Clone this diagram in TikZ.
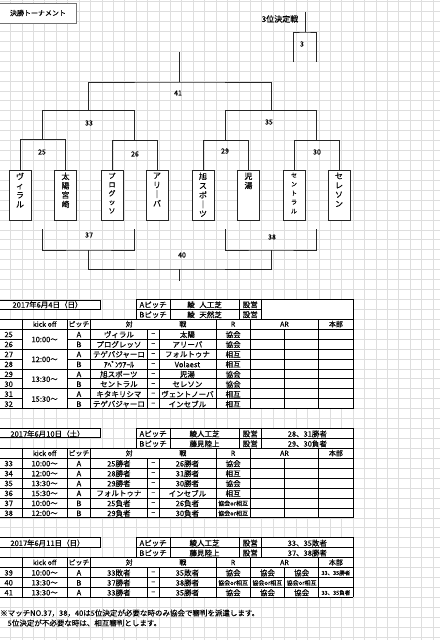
\documentclass[tikz,border=0pt]{standalone}
\usepackage{fontspec}
\setmainfont[FakeBold=0.3]{Noto Sans CJK JP}
\begin{document}
\begin{tikzpicture}[x=1pt,y=-1pt,
  gridline/.style={draw=black!13,line width=0.5pt},
  bline/.style={draw=black!85,line width=0.9pt},
  tline/.style={draw=black,line width=0.6pt},
  team/.style={draw=black!85,line width=0.9pt,fill=white,minimum width=22pt,minimum height=50pt,inner sep=0pt},
  vtext/.style={anchor=north,align=center,inner sep=0pt,font=\fontsize{8}{9.3}\selectfont},
  bnum/.style={font=\fontsize{7}{8}\selectfont,inner sep=0pt},
  cell/.style={font=\fontsize{7.5}{9}\selectfont,inner sep=0pt},
  smallcell/.style={font=\fontsize{6}{7}\selectfont,inner sep=0pt},
  tinycell/.style={font=\fontsize{5.5}{6}\selectfont,inner sep=0pt},
  datebox/.style={draw=black,line width=0.9pt,fill=white},
  hdr/.style={font=\fontsize{7}{8}\selectfont,inner sep=0pt},
]
\useasboundingbox (0,0) rectangle (440,640);
\fill[white] (0,0) rectangle (440,640);
% spreadsheet grid
\foreach \j in {0,...,38} \draw[gridline] ({-1+11.42*\j},0) -- ({-1+11.42*\j},640);
\foreach \k in {-30,...,34} \draw[gridline] (0,{299.3+9.93*\k}) -- (440,{299.3+9.93*\k});

% ---------------- title
\node[draw=black!55,line width=1pt,fill=white,minimum width=77pt,minimum height=20pt,inner sep=0pt,
      font=\fontsize{7}{8}\selectfont] (title) at (38,13) {決勝トーナメント};

% ---------------- teams
\node[team] (t1) at (20,195) {};
\node[team] (t2) at (65.5,195) {};
\node[team] (t3) at (112,195) {};
\node[team] (t4) at (157,195) {};
\node[team] (t5) at (203,195) {};
\node[team] (t6) at (248.5,195) {};
\node[team] (t7) at (294,195) {};
\node[team] (t8) at (339,195) {};
\node[vtext] (t1l) at ([yshift=-3pt]t1.north) {ヴ\\ィ\\ラ\\ル};
\node[vtext] (t2l) at ([yshift=-3pt]t2.north) {太\\陽\\宮\\崎};
\node[vtext,font=\fontsize{7}{8.7}\selectfont] (t3l) at ([yshift=-3pt]t3.north) {プ\\ロ\\グ\\ッ\\ソ};
\node[vtext] (t4l) at ([yshift=-3pt]t4.north) {ア\\リ\\｜\\バ};
\node[vtext] (t5l) at ([yshift=-3pt]t5.north) {旭\\ス\\ポ\\｜\\ツ};
\node[vtext] (t6l) at ([yshift=-3pt]t6.north) {児\\湯};
\node[vtext,font=\fontsize{6}{9}\selectfont] (t7l) at ([yshift=-3pt]t7.north) {セ\\ン\\ト\\ラ\\ル};
\node[vtext] (t8l) at ([yshift=-3pt]t8.north) {セ\\レ\\ソ\\ン};

% ---------------- bracket coordinates
\coordinate (m25) at (42.75,139.5);
\coordinate (m26) at (134.5,140.5);
\coordinate (m29) at (225.75,140.5);
\coordinate (m30) at (316.5,140.5);
\coordinate (m33) at (88.6,110.7);
\coordinate (m35) at (271.1,110.7);
\coordinate (m41) at (179.9,82);
\coordinate (top41) at (179.9,52);
\draw[bline] (t1.north) |- (m25) -| (t2.north);
\draw[bline] (t3.north) |- (m26) -| (t4.north);
\draw[bline] (t5.north) |- (m29) -| (t6.north);
\draw[bline] (t7.north) |- (m30) -| (t8.north);
\draw[bline] (m25) |- (m33) -| (m26);
\draw[bline] (m29) |- (m35) -| (m30);
\draw[bline] (m33) |- (m41) -| (m35);
\draw[bline] (m41) -- (top41);
\node[bnum] (l41) at (178,93) {41};
\node[bnum] (l33) at (89,123) {33};
\node[bnum] (l35) at (269,122) {35};
\node[bnum] (l25) at (42,152) {25};
\node[bnum] (l26) at (135,154) {26};
\node[bnum] (l29) at (225,151) {29};
\node[bnum] (l30) at (317,152) {30};

% third place
\node[font=\fontsize{8}{9}\selectfont,inner sep=0pt] (third) at (280,19) {3位決定戦};
\coordinate (f3) at (305,32);
\coordinate (f3top) at (305,12);
\coordinate (c3l) at (293.5,62);
\coordinate (c3r) at (316.5,62);
\draw[bline] (c3l) |- (f3) -| (c3r);
\draw[bline] (f3) -- (f3top);
\node[bnum] (l3) at (302,44) {3};

% losers brackets
\coordinate (a37) at (42.75,229);
\coordinate (b37) at (134.5,229);
\coordinate (m37) at (88.6,250);
\coordinate (a38) at (225.75,229);
\coordinate (b38) at (316.5,229);
\coordinate (m38) at (271.1,250);
\coordinate (m40) at (179.9,269);
\coordinate (bot40) at (179.9,281);
\draw[bline] (a37) |- (m37) -| (b37);
\draw[bline] (a38) |- (m38) -| (b38);
\draw[bline] (m37) |- (m40) -| (m38);
\draw[bline] (m40) -- (bot40);
\node[bnum] (l37) at (89,235) {37};
\node[bnum] (l38) at (272,237) {38};
\node[bnum] (l40) at (182,255) {40};

% ================= tables (grid units)
\begin{scope}[shift={(-1pt,-299.3pt)},x=11.42pt,y=-9.93pt]
% ---------- table 1
\fill[white] (12,0) rectangle (31,2);
\fill[white] (0,2) rectangle (31,11);
\draw[tline] (12,0) rectangle (31,2);
\draw[tline] (12,1) -- (23,1);
\foreach \j in {15,21,23} \draw[tline] (\j,0) -- (\j,2);
\foreach \k in {2,3,5,7,9,11} \draw[tline] (0,\k) -- (31,\k);
\foreach \k in {4,6,8,10} {\draw[tline] (0,\k) -- (2,\k); \draw[tline] (6,\k) -- (31,\k);}
\foreach \j in {2,6,8,19,22,28,31} \draw[tline] (\j,2) -- (\j,11);
\foreach \j in {13,14,25} \draw[tline] (\j,3) -- (\j,11);
\node[datebox,minimum width=101pt,minimum height=8.4pt,inner sep=0pt] (d1box) at (4.42,0.58) {};
\node[cell] (d1) at (4.25,0.55) {2017年6月4日（日）};
\node[cell] (pa1) at (13.5,0.55) {Aピッチ};
\node[cell] (pb1) at (13.5,1.55) {Bピッチ};
\node[cell] (fa1) at (18,0.55) {綾\hspace{0.6em}人工芝};
\node[cell] (fb1) at (18,1.55) {綾\hspace{0.6em}天然芝};
\node[cell] (sa1) at (22,0.55) {設営};
\node[cell] (sb1) at (22,1.55) {設営};
\node[hdr] (h1a) at (4,2.5) {kick off};
\node[hdr] (h1b) at (7,2.5) {ピッチ};
\node[hdr] (h1c) at (11.4,2.5) {対};
\node[hdr] (h1d) at (16.1,2.5) {戦};
\node[hdr] (h1e) at (20.5,2.5) {R};
\node[hdr] (h1f) at (25,2.5) {AR};
\node[hdr] (h1g) at (29.5,2.5) {本部};
\node[cell] (k25) at (4,4.05) {10:00～};
\node[cell] (k27) at (4,6.05) {12:00～};
\node[cell] (k29) at (4,8.05) {13:30～};
\node[cell] (k31) at (4,10.05) {15:30～};
\foreach \n/\p/\a/\b/\r [count=\i from 0] in {
25/A/ヴィラル/太陽/協会,
26/B/プログレッソ/アリーバ/協会,
27/A/テゲバジャーロ/フォルトゥナ/相互,
28/B/ｱﾍﾞﾝﾂｱｰﾙ/Volaest/相互,
29/A/旭スポーツ/児湯/協会,
30/B/セントラル/セレソン/協会,
31/A/キタキリシマ/ヴェントノーバ/相互,
32/B/テゲバジャーロ/インセブル/相互}{
 \node[cell] (n\n) at (0.85,{3.55+\i}) {\n};
 \node[cell] (p\n) at (7,{3.55+\i}) {\p};
 \node[cell] (a\n) at (10.5,{3.55+\i}) {\a};
 \node[cell] (x\n) at (13.5,{3.55+\i}) {–};
 \node[cell] (b\n) at (16.5,{3.55+\i}) {\b};
 \node[cell] (r\n) at (20.5,{3.55+\i}) {\r};
}

% ---------- table 2
\fill[white] (12,13) rectangle (31,15);
\fill[white] (0,15) rectangle (31,22);
\draw[tline] (12,13) rectangle (31,15);
\draw[tline] (12,14) -- (31,14);
\foreach \j in {15,21,23} \draw[tline] (\j,13) -- (\j,15);
\foreach \k in {15,...,22} \draw[tline] (0,\k) -- (31,\k);
\foreach \j in {2,6,8,19,22,28,31} \draw[tline] (\j,15) -- (\j,22);
\foreach \j in {13,14,25} \draw[tline] (\j,16) -- (\j,22);
\node[datebox,minimum width=101pt,minimum height=9.5pt,inner sep=0pt] (d2box) at (4.42,13.48) {};
\node[cell] (d2) at (4.25,13.55) {2017年6月10日（土）};
\node[cell] (pa2) at (13.5,13.55) {Aピッチ};
\node[cell] (pb2) at (13.5,14.55) {Bピッチ};
\node[cell] (fa2) at (18,13.55) {綾人工芝};
\node[cell] (fb2) at (18,14.55) {藤見陸上};
\node[cell] (sa2) at (22,13.55) {設営};
\node[cell] (sb2) at (22,14.55) {設営};
\node[cell] (wa2) at (27,13.55) {28、31勝者};
\node[cell] (wb2) at (27,14.55) {29、30負者};
\node[hdr] (h2a) at (4,15.5) {kick off};
\node[hdr] (h2b) at (7,15.5) {ピッチ};
\node[hdr] (h2c) at (11.4,15.5) {対};
\node[hdr] (h2d) at (16.1,15.5) {戦};
\node[hdr] (h2e) at (20.5,15.5) {R};
\node[hdr] (h2f) at (25,15.5) {AR};
\node[hdr] (h2g) at (29.5,15.5) {本部};
\foreach \n/\t/\p/\a/\b [count=\i from 0] in {
33/10:00～/A/25勝者/26勝者,
34/12:00～/A/28勝者/31勝者,
35/13:30～/A/29勝者/30勝者,
36/15:30～/A/フォルトゥナ/インセブル,
37/10:00～/B/25負者/26負者,
38/12:00～/B/29負者/30負者}{
 \node[cell] (n\n) at (0.85,{16.55+\i}) {\n};
 \node[cell] (k\n) at (4,{16.55+\i}) {\t};
 \node[cell] (p\n) at (7,{16.55+\i}) {\p};
 \node[cell] (a\n) at (10.5,{16.55+\i}) {\a};
 \node[cell] (x\n) at (13.5,{16.55+\i}) {–};
 \node[cell] (b\n) at (16.5,{16.55+\i}) {\b};
}
\node[cell] (r33) at (20.5,16.55) {協会};
\node[cell] (r34) at (20.5,17.55) {相互};
\node[cell] (r35) at (20.5,18.55) {協会};
\node[cell] (r36) at (20.5,19.55) {相互};
\node[smallcell] (r37) at (20.5,20.55) {協会or相互};
\node[smallcell] (r38) at (20.5,21.55) {協会or相互};

% ---------- table 3
\fill[white] (12,24) rectangle (31,26);
\fill[white] (0,26) rectangle (31,30);
\draw[tline] (12,24) rectangle (31,26);
\draw[tline] (12,25) -- (31,25);
\foreach \j in {15,21,23} \draw[tline] (\j,24) -- (\j,26);
\foreach \k in {26,...,30} \draw[tline] (0,\k) -- (31,\k);
\foreach \j in {2,6,8,19,22,28,31} \draw[tline] (\j,26) -- (\j,30);
\foreach \j in {13,14,25} \draw[tline] (\j,27) -- (\j,30);
\node[datebox,minimum width=101pt,minimum height=9.5pt,inner sep=0pt] (d3box) at (4.42,24.5) {};
\node[cell] (d3) at (4.25,24.55) {2017年6月11日（日）};
\node[cell] (pa3) at (13.5,24.55) {Aピッチ};
\node[cell] (pb3) at (13.5,25.55) {Bピッチ};
\node[cell] (fa3) at (18,24.55) {綾人工芝};
\node[cell] (fb3) at (18,25.55) {藤見陸上};
\node[cell] (sa3) at (22,24.55) {設営};
\node[cell] (sb3) at (22,25.55) {設営};
\node[cell] (wa3) at (27,24.55) {33、35敗者};
\node[cell] (wb3) at (27,25.55) {37、38勝者};
\node[hdr] (h3a) at (4,26.5) {kick off};
\node[hdr] (h3b) at (7,26.5) {ピッチ};
\node[hdr] (h3c) at (11.4,26.5) {対};
\node[hdr] (h3d) at (16.1,26.5) {戦};
\node[hdr] (h3e) at (20.5,26.5) {R};
\node[hdr] (h3f) at (25,26.5) {AR};
\node[hdr] (h3g) at (29.5,26.5) {本部};
\foreach \n/\t/\p/\a/\b [count=\i from 0] in {
39/10:00～/A/33敗者/35敗者,
40/13:30～/B/37勝者/38勝者,
41/13:30～/A/33勝者/35勝者}{
 \node[cell] (n\n) at (0.85,{27.55+\i}) {\n};
 \node[cell] (k\n) at (4,{27.55+\i}) {\t};
 \node[cell] (p\n) at (7,{27.55+\i}) {\p};
 \node[cell] (a\n) at (10.5,{27.55+\i}) {\a};
 \node[cell] (x\n) at (13.5,{27.55+\i}) {–};
 \node[cell] (b\n) at (16.5,{27.55+\i}) {\b};
}
\node[cell] (r39) at (20.5,27.55) {協会};
\node[cell] (ra39) at (23.5,27.55) {協会};
\node[cell] (rb39) at (26.5,27.55) {協会};
\node[tinycell] (hq39) at (29.5,27.55) {33、35勝者};
\node[smallcell] (r40) at (20.5,28.55) {協会or相互};
\node[smallcell] (ra40) at (23.5,28.55) {協会or相互};
\node[smallcell] (rb40) at (26.5,28.55) {協会or相互};
\node[cell] (r41) at (20.5,29.55) {協会};
\node[cell] (ra41) at (23.5,29.55) {協会};
\node[cell] (rb41) at (26.5,29.55) {協会};
\node[tinycell] (hq41) at (29.5,29.55) {33、35負者};

% footnote
\node[cell,anchor=west] (fn1) at (0.09,31.6) {※マッチNO.37，38，40は5位決定が必要な時のみ協会で審判を派遣します。};
\node[cell,anchor=west] (fn2) at (0.09,32.6) {　5位決定が不必要な時は、相互審判とします。};
\end{scope}
\end{tikzpicture}
\end{document}
